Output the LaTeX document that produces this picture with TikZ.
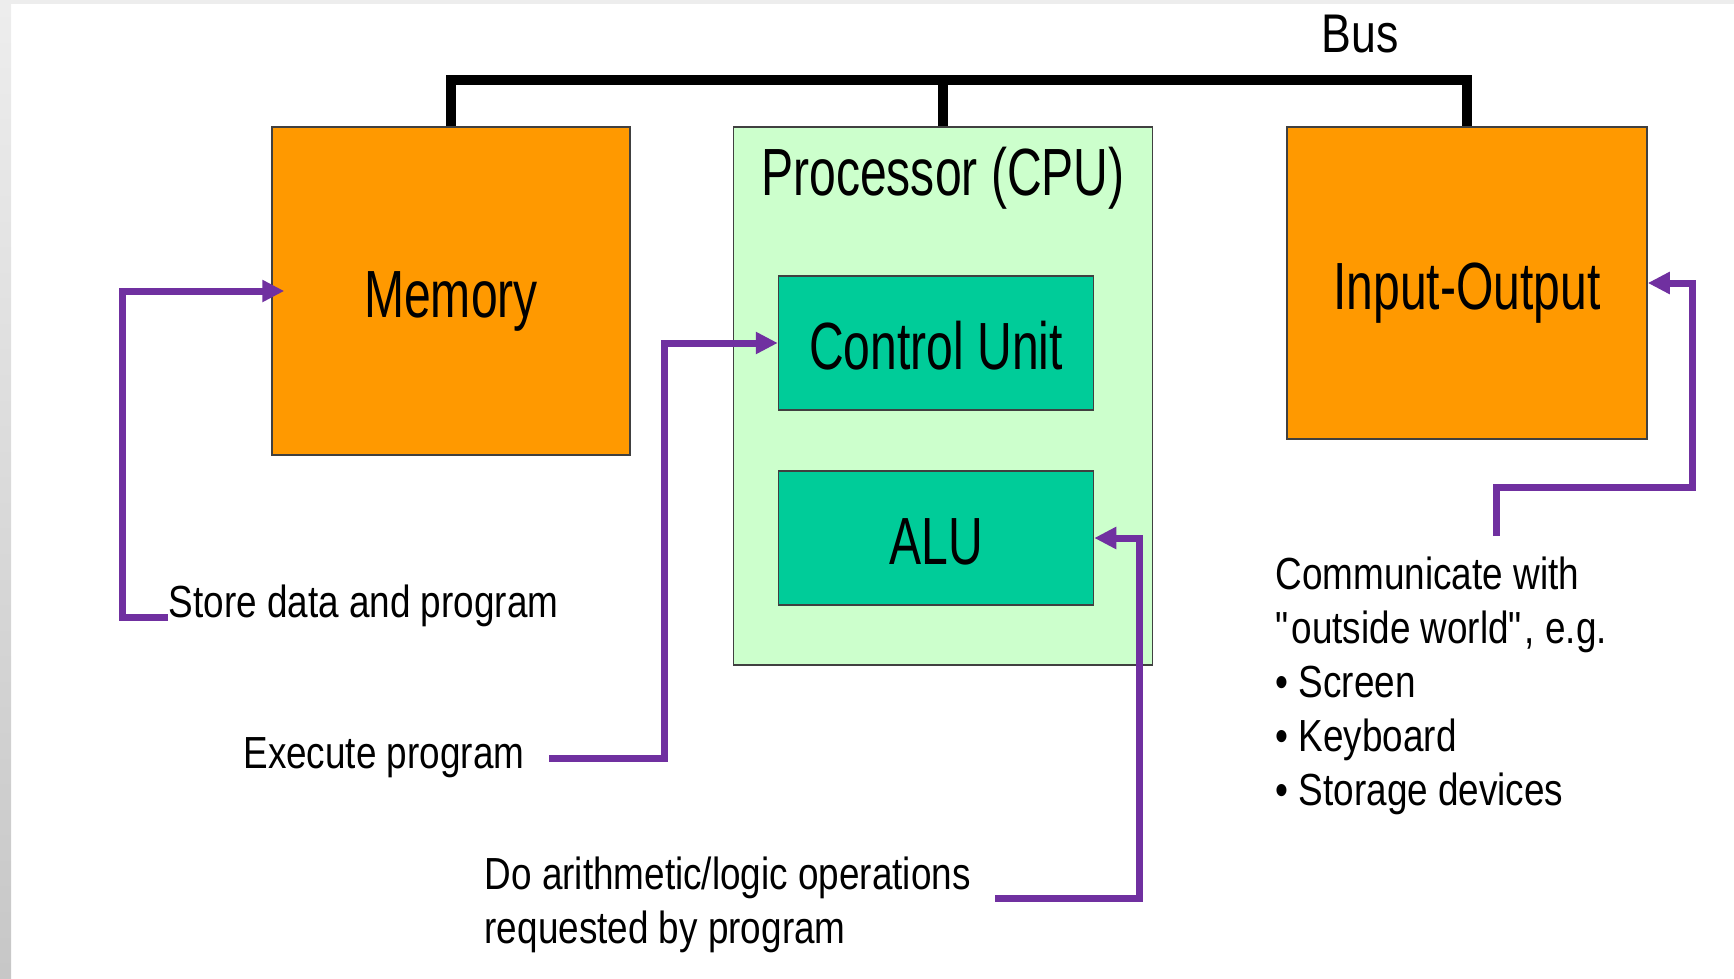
\documentclass[tikz,border=0pt]{standalone}
\usepackage{fontspec}
\setmainfont{Liberation Sans}[FakeStretch=0.82]
\newfontfamily\boxfont{Liberation Sans}[FakeStretch=0.72]
\usetikzlibrary{arrows.meta}
\definecolor{memorange}{HTML}{FF9900}
\definecolor{cpugreen}{HTML}{CCFFCC}
\definecolor{unitgreen}{HTML}{00CC99}
\definecolor{linkpurple}{HTML}{7030A0}
\begin{document}
\begin{tikzpicture}[x=0.1mm,y=-0.1mm,>={Triangle[length=2.2mm,width=2.1mm]},
    boxtext/.style={inner sep=0pt,font=\boxfont\fontsize{19}{23}\selectfont},
    box/.style={boxtext,draw=black!75,line width=0.15mm,text height=15pt,text depth=0pt},
    unit/.style={box,fill=unitgreen,minimum width=31.5mm,minimum height=13.4mm},
    note/.style={inner sep=0pt,align=left,font=\fontsize{12.8}{15.4}\selectfont},
    link/.style={->,draw=linkpurple,line width=0.7mm},
    bus/.style={line width=1mm}]
    \useasboundingbox (0,0) rectangle (1734,978);
    \shade[top color=black!7,bottom color=black!22] (0,0) rectangle (11,978);
    \fill[black!7] (11,0) rectangle (1734,4);
    \node[box,fill=memorange,minimum width=35.8mm,minimum height=32.8mm] (mem) at (451,291) {Memory};
    \node[box,fill=cpugreen,minimum width=41.9mm,minimum height=53.8mm] (cpu) at (943,396) {};
    \node[boxtext,anchor=base] (cpulabel) at (943,195) {Processor (CPU)};
    \node[unit] (cu) at (936,343) {Control Unit};
    \node[unit] (alu) at (936,538) {ALU};
    \node[box,fill=memorange,minimum width=36mm,minimum height=31.2mm] (io) at (1467,283) {Input-Output};
    \draw[bus] (mem.north) -- ++(0,-46) -| (io.north);
    \draw[bus] (cpu.north) -- ++(0,-46);
    \node[note,anchor=base,font=\fontsize{15.5}{18}\selectfont] (buslabel) at (1360,53) {Bus};
    \node[note,anchor=base west] (store) at (168,617) {Store data and program};
    \node[note,anchor=east] (exec) at (525,758) {Execute program};
    \node[note,anchor=west] (arith) at (484,905) {Do arithmetic/logic operations\\requested by program};
    \node[note,anchor=north west] (comm) at (1275,556) {Communicate with\\\textquotedbl outside world\textquotedbl, e.g.\\• Screen\\• Keyboard\\• Storage devices};
    \coordinate (commtop) at (1496,536);
    \draw[link] (store.base west) -- ++(-46,0) |- ([xshift=1.3mm]mem.west);
    \draw[link,shorten <=2.4mm] (exec.east) -- ++(139,0) |- (cu.west);
    \draw[link,shorten <=2.4mm] ([yshift=0.7mm]arith.east) -- ++(168,0) |- (alu.east);
    \draw[link] (commtop) -- ++(0,-49) -- ++(196,0) |- (io.east);
\end{tikzpicture}
\end{document}
